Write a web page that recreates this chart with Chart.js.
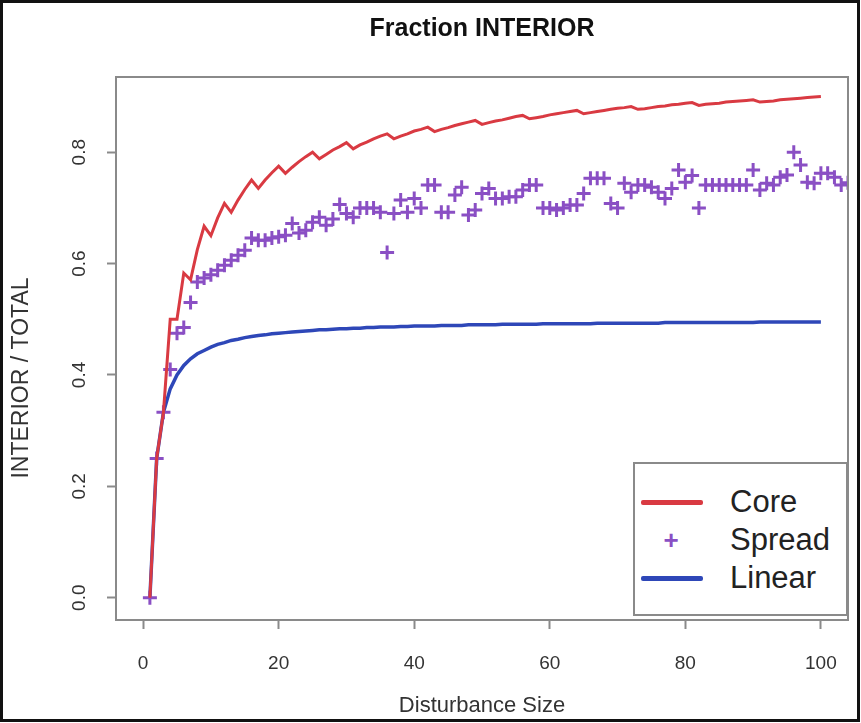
<!DOCTYPE html>
<html>
<head>
<meta charset="utf-8">
<script src="https://cdn.jsdelivr.net/npm/chart.js@4/dist/chart.umd.min.js"></script>
<style>
  body { margin: 0; background: #fff; }
  #wrap { position: relative; width: 861px; height: 723px; }
  #legend {
    position: absolute; left: 633px; top: 462px; width: 211px; height: 150px;
    border: 2px solid #8a8a8a; background: #fff;
    font-family: "Liberation Sans", Arial, sans-serif; font-size: 31px; color: #222;
  }
  .row { position: absolute; left: 0; height: 36px; line-height: 36px; }
  .row .mark { position: absolute; left: 6px; width: 62px; top: 16px; height: 5px; border-radius: 2px; }
  .row .txt { position: absolute; left: 95px; top: 0; white-space: nowrap; }
  .row .plus { position: absolute; left: 26px; top: 0; width: 20px; text-align: center; color: #8a4fc4; font-size: 26px; font-weight: bold; }
</style>
</head>
<body>
<div id="wrap">
  <canvas id="myChart" width="861" height="723"></canvas>
  <div id="legend">
    <div class="row" style="top:20px"><span class="mark" style="background:#d93a42"></span><span class="txt">Core</span></div>
    <div class="row" style="top:58px"><span class="plus">+</span><span class="txt">Spread</span></div>
    <div class="row" style="top:96px"><span class="mark" style="background:#2e47b8"></span><span class="txt">Linear</span></div>
  </div>
</div>
<script>
const ctx = document.querySelector("#myChart");

const tamanos = [1,2,3,4,5,6,7,8,9,10,11,12,13,14,15,16,17,18,19,20,
  21,22,23,24,25,26,27,28,29,30,31,32,33,34,35,36,37,38,39,40,
  41,42,43,44,45,46,47,48,49,50,51,52,53,54,55,56,57,58,59,60,
  61,62,63,64,65,66,67,68,69,70,71,72,73,74,75,76,77,78,79,80,
  81,82,83,84,85,86,87,88,89,90,91,92,93,94,95,96,97,98,99,100,
  101,102,103,104];

const core = [0,0.25,0.333,0.5,0.5,0.583,0.571,0.625,0.667,0.65,
  0.682,0.708,0.692,0.714,0.733,0.75,0.735,0.75,0.763,0.775,
  0.762,0.773,0.783,0.792,0.8,0.788,0.796,0.804,0.81,0.817,
  0.806,0.813,0.818,0.824,0.829,0.833,0.824,0.829,0.833,0.838,
  0.841,0.845,0.837,0.841,0.844,0.848,0.851,0.854,0.857,0.85,
  0.853,0.856,0.858,0.861,0.864,0.866,0.86,0.862,0.864,0.867,
  0.869,0.871,0.873,0.875,0.869,0.871,0.873,0.875,0.877,0.879,
  0.88,0.882,0.877,0.878,0.88,0.882,0.883,0.885,0.886,0.888,
  0.889,0.884,0.886,0.887,0.888,0.89,0.891,0.892,0.893,0.894,
  0.89,0.891,0.892,0.894,0.895,0.896,0.897,0.898,0.899,0.9];

const spread = [0,0.25,0.333,0.41,0.475,0.485,0.53,0.567,0.574,0.58,
  0.588,0.597,0.606,0.615,0.624,0.646,0.642,0.642,0.646,0.648,
  0.651,0.672,0.655,0.66,0.674,0.683,0.669,0.68,0.706,0.69,
  0.683,0.7,0.7,0.7,0.692,0.62,0.69,0.714,0.692,0.717,
  0.7,0.741,0.741,0.692,0.692,0.723,0.737,0.687,0.696,0.726,
  0.735,0.717,0.717,0.72,0.72,0.732,0.741,0.741,0.7,0.7,
  0.696,0.7,0.705,0.705,0.726,0.753,0.753,0.753,0.708,0.7,
  0.744,0.728,0.741,0.741,0.737,0.728,0.717,0.735,0.768,0.746,
  0.758,0.7,0.741,0.741,0.741,0.741,0.741,0.741,0.741,0.768,
  0.732,0.744,0.741,0.755,0.759,0.8,0.777,0.746,0.744,0.762,
  0.762,0.755,0.741,0.745];

const linear = [0,0.25,0.333,0.375,0.4,0.417,0.429,0.438,0.444,0.45,
  0.455,0.458,0.462,0.464,0.467,0.469,0.471,0.472,0.474,0.475,
  0.476,0.477,0.478,0.479,0.48,0.481,0.481,0.482,0.483,0.483,
  0.484,0.484,0.485,0.485,0.486,0.486,0.486,0.487,0.487,0.488,
  0.488,0.488,0.488,0.489,0.489,0.489,0.489,0.49,0.49,0.49,
  0.49,0.49,0.491,0.491,0.491,0.491,0.491,0.491,0.492,0.492,
  0.492,0.492,0.492,0.492,0.492,0.492,0.493,0.493,0.493,0.493,
  0.493,0.493,0.493,0.493,0.493,0.493,0.494,0.494,0.494,0.494,
  0.494,0.494,0.494,0.494,0.494,0.494,0.494,0.494,0.494,0.494,
  0.495,0.495,0.495,0.495,0.495,0.495,0.495,0.495,0.495,0.495];

const xTicks = [0, 20, 40, 60, 80, 100];
const yTicks = [0, 0.2, 0.4, 0.6, 0.8];
const yTickLabels = ['0.0', '0.2', '0.4', '0.6', '0.8'];

const puntos = (valores) => valores.map((v, i) => ({ x: tamanos[i], y: v }));

const marco = {
    id: 'marco',
    afterDatasetsDraw(chart) {
        const c = chart.ctx;
        const a = chart.chartArea;
        c.save();
        c.strokeStyle = '#8a8a8a';
        c.lineWidth = 2;
        c.strokeRect(a.left, a.top, a.right - a.left, a.bottom - a.top);
        // y tick labels, rotated like R
        const y = chart.scales.y;
        c.fillStyle = '#333';
        c.font = '19px "Liberation Sans", Arial, sans-serif';
        c.textAlign = 'center';
        c.textBaseline = 'middle';
        yTicks.forEach((v, i) => {
            c.save();
            c.translate(80, y.getPixelForValue(v));
            c.rotate(-Math.PI / 2);
            c.fillText(yTickLabels[i], 0, 0);
            c.restore();
        });
        // y axis title, sits a bit below the middle in the original
        c.save();
        c.font = '23px "Liberation Sans", Arial, sans-serif';
        c.translate(22, 378);
        c.rotate(-Math.PI / 2);
        c.fillText('INTERIOR / TOTAL', 0, 0);
        c.restore();
        // outer black frame
        c.strokeStyle = '#111';
        c.lineWidth = 3;
        c.strokeRect(1.5, 1.5, 857, 719);
        c.restore();
    }
};

const myChart = new Chart(ctx, {
    type: 'line',
    data: {
        datasets: [{
            label: 'Core',
            data: puntos(core),
            borderColor: '#d93a42',
            borderWidth: 3,
            pointRadius: 0,
            tension: 0
        }, {
            label: 'Spread',
            data: puntos(spread),
            showLine: false,
            pointStyle: 'cross',
            pointRadius: 7,
            pointBorderWidth: 3,
            pointBorderColor: '#8a4fc4',
            borderColor: '#8a4fc4'
        }, {
            label: 'Linear',
            data: puntos(linear),
            borderColor: '#2e47b8',
            borderWidth: 3.5,
            pointRadius: 0,
            tension: 0
        }]
    },
    options: {
        responsive: false,
        animation: false,
        layout: { padding: { left: 0, right: 13, top: 0, bottom: 0 } },
        plugins: {
            legend: { display: false },
            tooltip: { enabled: false },
            title: {
                display: true,
                text: 'Fraction INTERIOR',
                fullSize: false,
                color: '#111',
                font: { family: '"Liberation Sans", Arial, sans-serif', size: 25, weight: 'bold' },
                padding: { top: 14, bottom: 33 }
            }
        },
        scales: {
            x: {
                type: 'linear',
                min: -4,
                max: 104,
                afterBuildTicks: (s) => { s.ticks = xTicks.map(v => ({ value: v })); },
                afterFit: (s) => { s.height = 103; },
                border: { display: false },
                grid: { drawOnChartArea: false, drawTicks: true, tickLength: 9, tickColor: '#8a8a8a', tickWidth: 2 },
                ticks: {
                    color: '#333',
                    padding: 23,
                    maxRotation: 0,
                    font: { family: '"Liberation Sans", Arial, sans-serif', size: 19 }
                },
                title: {
                    display: true,
                    text: 'Disturbance Size',
                    color: '#333',
                    font: { family: '"Liberation Sans", Arial, sans-serif', size: 22 },
                    padding: { top: 0, bottom: 4 }
                }
            },
            y: {
                min: -0.04,
                max: 0.935,
                afterBuildTicks: (s) => { s.ticks = yTicks.map(v => ({ value: v })); },
                afterFit: (s) => { s.width = 116; },
                border: { display: false },
                grid: { drawOnChartArea: false, drawTicks: true, tickLength: 9, tickColor: '#8a8a8a', tickWidth: 2 },
                ticks: { color: 'transparent', font: { size: 19 } },
                title: { display: false }
            }
        }
    },
    plugins: [marco]
});
</script>
</body>
</html>
